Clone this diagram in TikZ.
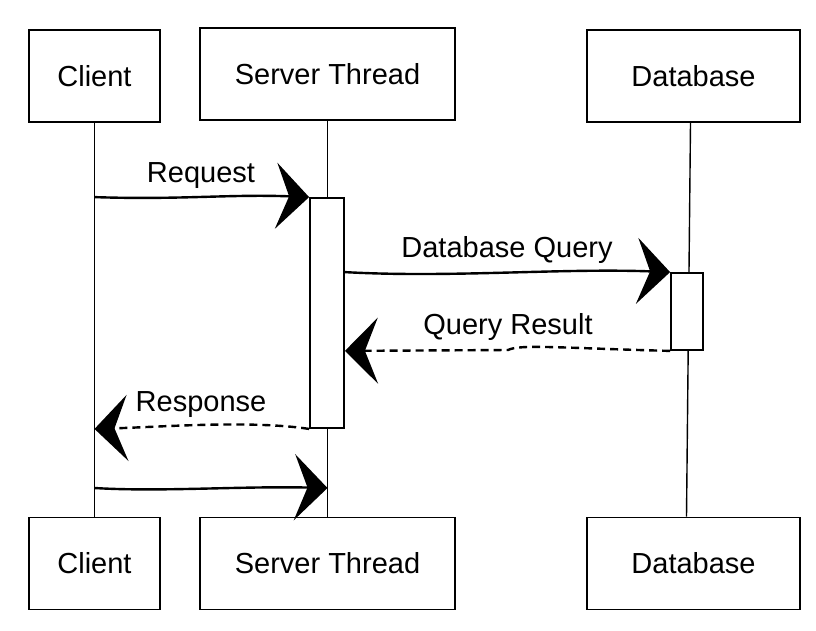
\documentclass[tikz,border=0pt]{standalone}
\usepackage{fontspec}
\setmainfont{Liberation Sans}
\usetikzlibrary{arrows.meta,calc}
\begin{document}
\begin{tikzpicture}[x=1pt,y=-1pt,
  actor/.style={draw,line width=1.8pt,fill=white,minimum height=92pt,inner sep=0pt,font=\fontsize{29}{31}\selectfont},
  life/.style={line width=1.4pt},
  actbox/.style={draw,line width=1.8pt,fill=white,inner sep=0pt},
  msg/.style={line width=2.4pt,-{Stealth[length=33pt,width=66pt,inset=13pt]}},
  ret/.style={msg,dash pattern=on 8pt off 5pt},
  lbl/.style={font=\fontsize{29}{31}\selectfont,inner sep=0pt}]
\useasboundingbox (0,0) rectangle (816,630);
% actors
\node[actor,minimum width=131pt] (c1) at (94.5,76) {Client};
\node[actor,minimum width=255pt] (s1) at (327.5,74) {Server Thread};
\node[actor,minimum width=213pt] (d1) at (693.5,76) {Database};
\node[actor,minimum width=131pt] (c2) at (94.5,563.5) {Client};
\node[actor,minimum width=255pt] (s2) at (327.5,563.5) {Server Thread};
\node[actor,minimum width=213pt] (d2) at (693.5,563.5) {Database};
% lifelines
\draw[life] (c1.south) -- (c2.north);
\draw[life] (s1.south) -- (s2.north);
\draw[life] ([xshift=-3pt]d1.south) -- ([xshift=-7pt]d2.north);
% activations
\node[actbox,minimum width=34pt,minimum height=230pt] (sa) at (327,313) {};
\node[actbox,minimum width=32pt,minimum height=77pt] (da) at (687,311.5) {};
% messages
\coordinate (y5) at (0,488);
\draw[msg] (c1.south |- sa.north west) .. controls (180,200) and (230,194) .. (sa.north west);
\draw[msg] (sa.east |- da.north west) .. controls (450,278) and (560,268) .. (da.north west);
\draw[ret] (da.south west) .. controls (560,348) and (520,344) .. (508,350) -- (sa.east |- da.south west);
\draw[ret] (sa.south west) .. controls (250,420) and (160,427) .. (c1.south |- sa.south west);
\draw[msg] (c1.south |- y5) .. controls (160,492) and (240,486) .. (s1.south |- y5);
% labels
\node[lbl] (l1) at (201,176) {Request};
\node[lbl] (l2) at (507,250) {Database Query};
\node[lbl] (l3) at (508,327) {Query Result};
\node[lbl] (l4) at (201,405) {Response};
\end{tikzpicture}
\end{document}
